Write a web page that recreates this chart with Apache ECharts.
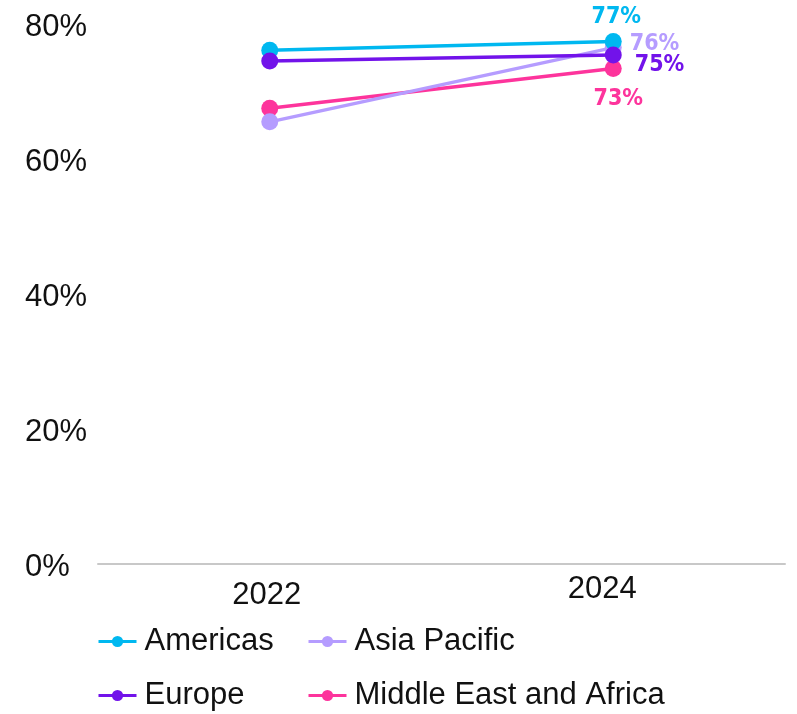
<!DOCTYPE html>
<html>
<head>
<meta charset="utf-8">
<script src="https://cdn.jsdelivr.net/npm/echarts@6/dist/echarts.min.js"></script>
<style>
html,body{margin:0;padding:0;background:#fff;}
#chart{width:797px;height:714px;}
</style>
</head>
<body>
<div id="chart"></div>
<script>
var years = ['2022', '2024'];
var americas = [76.0, 77.3];
var asiaPacific = [65.4, 76.4];
var europe = [74.4, 75.3];
var middleEastAfrica = [67.4, 73.3];
var yTicks = [0, 20, 40, 60, 80];

var FONT = '"Liberation Sans", Arial, sans-serif';
var LABEL_FONT = '"Liberation Sans Narrow", "DejaVu Sans Condensed", "Liberation Sans", sans-serif';

function mkSeries(name, data, color, labelCfg) {
  return {
    name: name,
    type: 'line',
    data: data,
    symbol: 'circle',
    symbolSize: 17,
    lineStyle: { width: 3.5, color: color },
    itemStyle: { color: color },
    label: Object.assign({
      show: true,
      color: color,
      fontFamily: LABEL_FONT,
      fontWeight: 'bold',
      fontSize: 23,
      formatter: function (p) { return p.dataIndex === data.length - 1 ? Math.round(p.value) + '%' : ''; }
    }, labelCfg),
    emphasis: { disabled: true }
  };
}

var legendCommon = {
  orient: 'vertical',
  top: 626,
  padding: 0,
  itemWidth: 38, itemHeight: 14, itemGap: 23,
  lineStyle: { width: 3 },
  textStyle: { fontFamily: FONT, fontSize: 31, color: '#111', lineHeight: 30, padding: [0, 0, 0, 3] }
};

var chart = echarts.init(document.getElementById('chart'), null, { renderer: 'canvas' });
chart.setOption({
  animation: false,
  grid: { left: 98, right: 12, top: 23.3, bottom: 150.7, containLabel: false },
  xAxis: {
    type: 'category',
    data: years,
    boundaryGap: true,
    axisLine: { show: true, lineStyle: { color: '#c8c8c8', width: 2 } },
    axisTick: { show: false },
    axisLabel: {
      margin: 11,
      color: '#111',
      fontFamily: FONT,
      fontSize: 31,
      formatter: function (v, i) { return i === 0 ? '{a|' + v + '}' : '{b|' + v + '}'; },
      rich: {
        a: { fontFamily: FONT, fontSize: 31, color: '#111', padding: [6, 6, 0, 0] },
        b: { fontFamily: FONT, fontSize: 31, color: '#111', padding: [0, 22, 0, 0] }
      }
    },
    splitLine: { show: false }
  },
  yAxis: {
    type: 'value',
    min: yTicks[0],
    max: yTicks[yTicks.length - 1],
    interval: 20,
    axisLine: { show: false },
    axisTick: { show: false },
    splitLine: { show: false },
    axisLabel: {
      align: 'left',
      margin: 73,
      color: '#111',
      fontFamily: FONT,
      fontSize: 31,
      formatter: function (v) { return '{v|' + v + '%}'; },
      rich: {
        v: { fontFamily: FONT, fontSize: 31, color: '#111', padding: [9, 0, 0, 0] }
      }
    }
  },
  legend: [
    Object.assign({ data: ['Americas', 'Europe'], left: 97 }, legendCommon),
    Object.assign({ data: ['Asia Pacific', 'Middle East and Africa'], left: 307 }, legendCommon)
  ],
  series: [
    mkSeries('Middle East and Africa', middleEastAfrica, '#FD349C', { position: 'bottom', distance: 11, offset: [5, 0] }),
    mkSeries('Asia Pacific', asiaPacific, '#B59CFF', { position: 'right', distance: 8, offset: [0, -4] }),
    mkSeries('Americas', americas, '#00B8F0', { position: 'top', distance: 4, offset: [3, 0] }),
    mkSeries('Europe', europe, '#7213EA', { position: 'right', distance: 13, offset: [0, 10] })
  ]
});
</script>
</body>
</html>
